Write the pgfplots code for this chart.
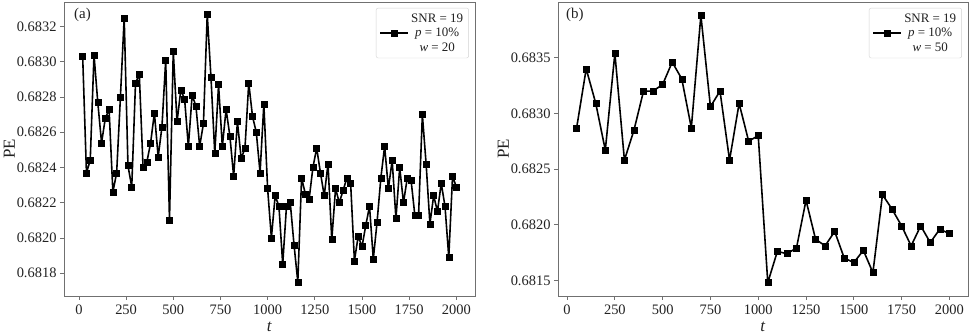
\documentclass[border=0pt]{standalone}
\usepackage{pgfplots}
\pgfplotsset{compat=1.18}
\usepackage{fontspec}
\setmainfont{Liberation Serif}
\definecolor{axgray}{HTML}{707070}
\definecolor{txt}{HTML}{222222}
\pgfplotsset{
  mystyle/.style={
    scale only axis,
    axis line style={axgray, line width=0.9pt},
    tick style={axgray, line width=0.8pt},
    major tick length=4bp,
    tick align=outside,
    xtick pos=left, ytick pos=left,
    xtick={0,250,500,750,1000,1250,1500,1750,2000},
    xticklabels={0,250,500,750,1000,1250,1500,1750,2000},
    scaled y ticks=false,
    ticklabel style={font=\fontsize{14.5}{16}\selectfont, text=txt},
    xticklabel style={yshift=-1bp},
    yticklabel style={/pgf/number format/.cd, fixed, precision=4, zerofill, assume math mode=true},
    xlabel={\textit{t}},
    ylabel={PE},
    label style={font=\fontsize{17}{19}\selectfont, text=txt},
    xlabel style={inner sep=0pt, yshift=-4bp},
    ylabel style={yshift=-5bp},
    legend style={at={(rel axis cs:0.985,0.98)}, anchor=north east,
      draw=gray!35, rounded corners=2pt, font=\fontsize{13}{14.5}\selectfont,
      cells={align=center}, text=txt, inner sep=3.5pt},
    legend image code/.code={\draw[mark repeat=2,mark phase=2] plot coordinates {(0bp,0bp)(14bp,0bp)(28bp,0bp)};},
  },
  myplot/.style={black, line width=1.6pt, line join=round, mark=square*, mark size=3bp,
      mark options={solid, line width=0.5pt, line join=miter}},
}
\begin{document}
\begin{tikzpicture}
\useasboundingbox (0,0) rectangle (976bp,334bp);
\begin{axis}[mystyle,
  at={(64bp,38bp)}, anchor=south west,
  width=411bp, height=294bp,
  xmin=-79, xmax=2099, ymin=0.68167, ymax=0.68334,
  ytick={0.6818,0.6820,0.6822,0.6824,0.6826,0.6828,0.6830,0.6832},
]
\addplot[myplot] coordinates {
(20,0.68303)(40,0.68237)(60,0.68244)(80,0.68304)(100,0.68277)
(120,0.68254)(140,0.68268)(160,0.68273)(180,0.68226)(200,0.68237)
(220,0.68280)(240,0.68325)(260,0.68241)(280,0.68229)(300,0.68288)
(320,0.68293)(340,0.68240)(360,0.68243)(380,0.68254)(400,0.68271)
(420,0.68246)(440,0.68263)(460,0.68301)(480,0.68210)(500,0.68306)
(520,0.68266)(540,0.68284)(560,0.68279)(580,0.68252)(600,0.68281)
(620,0.68275)(640,0.68252)(660,0.68265)(680,0.68327)(700,0.68291)
(720,0.68248)(740,0.68287)(760,0.68252)(780,0.68273)(800,0.68258)
(820,0.68235)(840,0.68266)(860,0.68245)(880,0.68251)(900,0.68288)
(920,0.68269)(940,0.68260)(960,0.68237)(980,0.68276)(1000,0.68228)
(1020,0.68200)(1040,0.68224)(1060,0.68218)(1080,0.68185)(1100,0.68218)
(1120,0.68220)(1140,0.68196)(1160,0.68175)(1180,0.68234)(1200,0.68225)
(1220,0.68222)(1240,0.68240)(1260,0.68251)(1280,0.68237)(1300,0.68224)
(1320,0.68242)(1340,0.68199)(1360,0.68228)(1380,0.68220)(1400,0.68227)
(1420,0.68234)(1440,0.68231)(1460,0.68187)(1480,0.68201)(1500,0.68195)
(1520,0.68207)(1540,0.68218)(1560,0.68188)(1580,0.68209)(1600,0.68234)
(1620,0.68252)(1640,0.68228)(1660,0.68244)(1680,0.68211)(1700,0.68240)
(1720,0.68220)(1740,0.68234)(1760,0.68233)(1780,0.68213)(1800,0.68213)
(1820,0.68270)(1840,0.68242)(1860,0.68208)(1880,0.68224)(1900,0.68215)
(1920,0.68231)(1940,0.68218)(1960,0.68189)(1980,0.68235)(2000,0.68229)
};
\addlegendentry{SNR = 19\\\textit{p} = 10\%\\\textit{w} = 20}
\node[font=\fontsize{15}{17}\selectfont, text=txt] at (rel axis cs:0.045,0.955) {(a)};
\end{axis}
\begin{axis}[mystyle,
  at={(558bp,38bp)}, anchor=south west,
  width=410bp, height=294bp,
  xmin=-47.5, xmax=2097.5, ymin=0.68136, ymax=0.68400,
  ytick={0.6815,0.6820,0.6825,0.6830,0.6835},
]
\addplot[myplot] coordinates {
(50,0.68287)(100,0.68340)(150,0.68309)(200,0.68267)(250,0.68354)
(300,0.68258)(350,0.68285)(400,0.68320)(450,0.68320)(500,0.68326)
(550,0.68346)(600,0.68331)(650,0.68287)(700,0.68388)(750,0.68306)
(800,0.68320)(850,0.68258)(900,0.68309)(950,0.68275)(1000,0.68280)
(1050,0.68148)(1100,0.68176)(1150,0.68174)(1200,0.68179)(1250,0.68222)
(1300,0.68187)(1350,0.68181)(1400,0.68194)(1450,0.68170)(1500,0.68166)
(1550,0.68177)(1600,0.68157)(1650,0.68227)(1700,0.68214)(1750,0.68199)
(1800,0.68181)(1850,0.68199)(1900,0.68184)(1950,0.68196)(2000,0.68192)
};
\addlegendentry{SNR = 19\\\textit{p} = 10\%\\\textit{w} = 50}
\node[font=\fontsize{15}{17}\selectfont, text=txt] at (rel axis cs:0.041,0.955) {(b)};
\end{axis}
\end{tikzpicture}
\end{document}
